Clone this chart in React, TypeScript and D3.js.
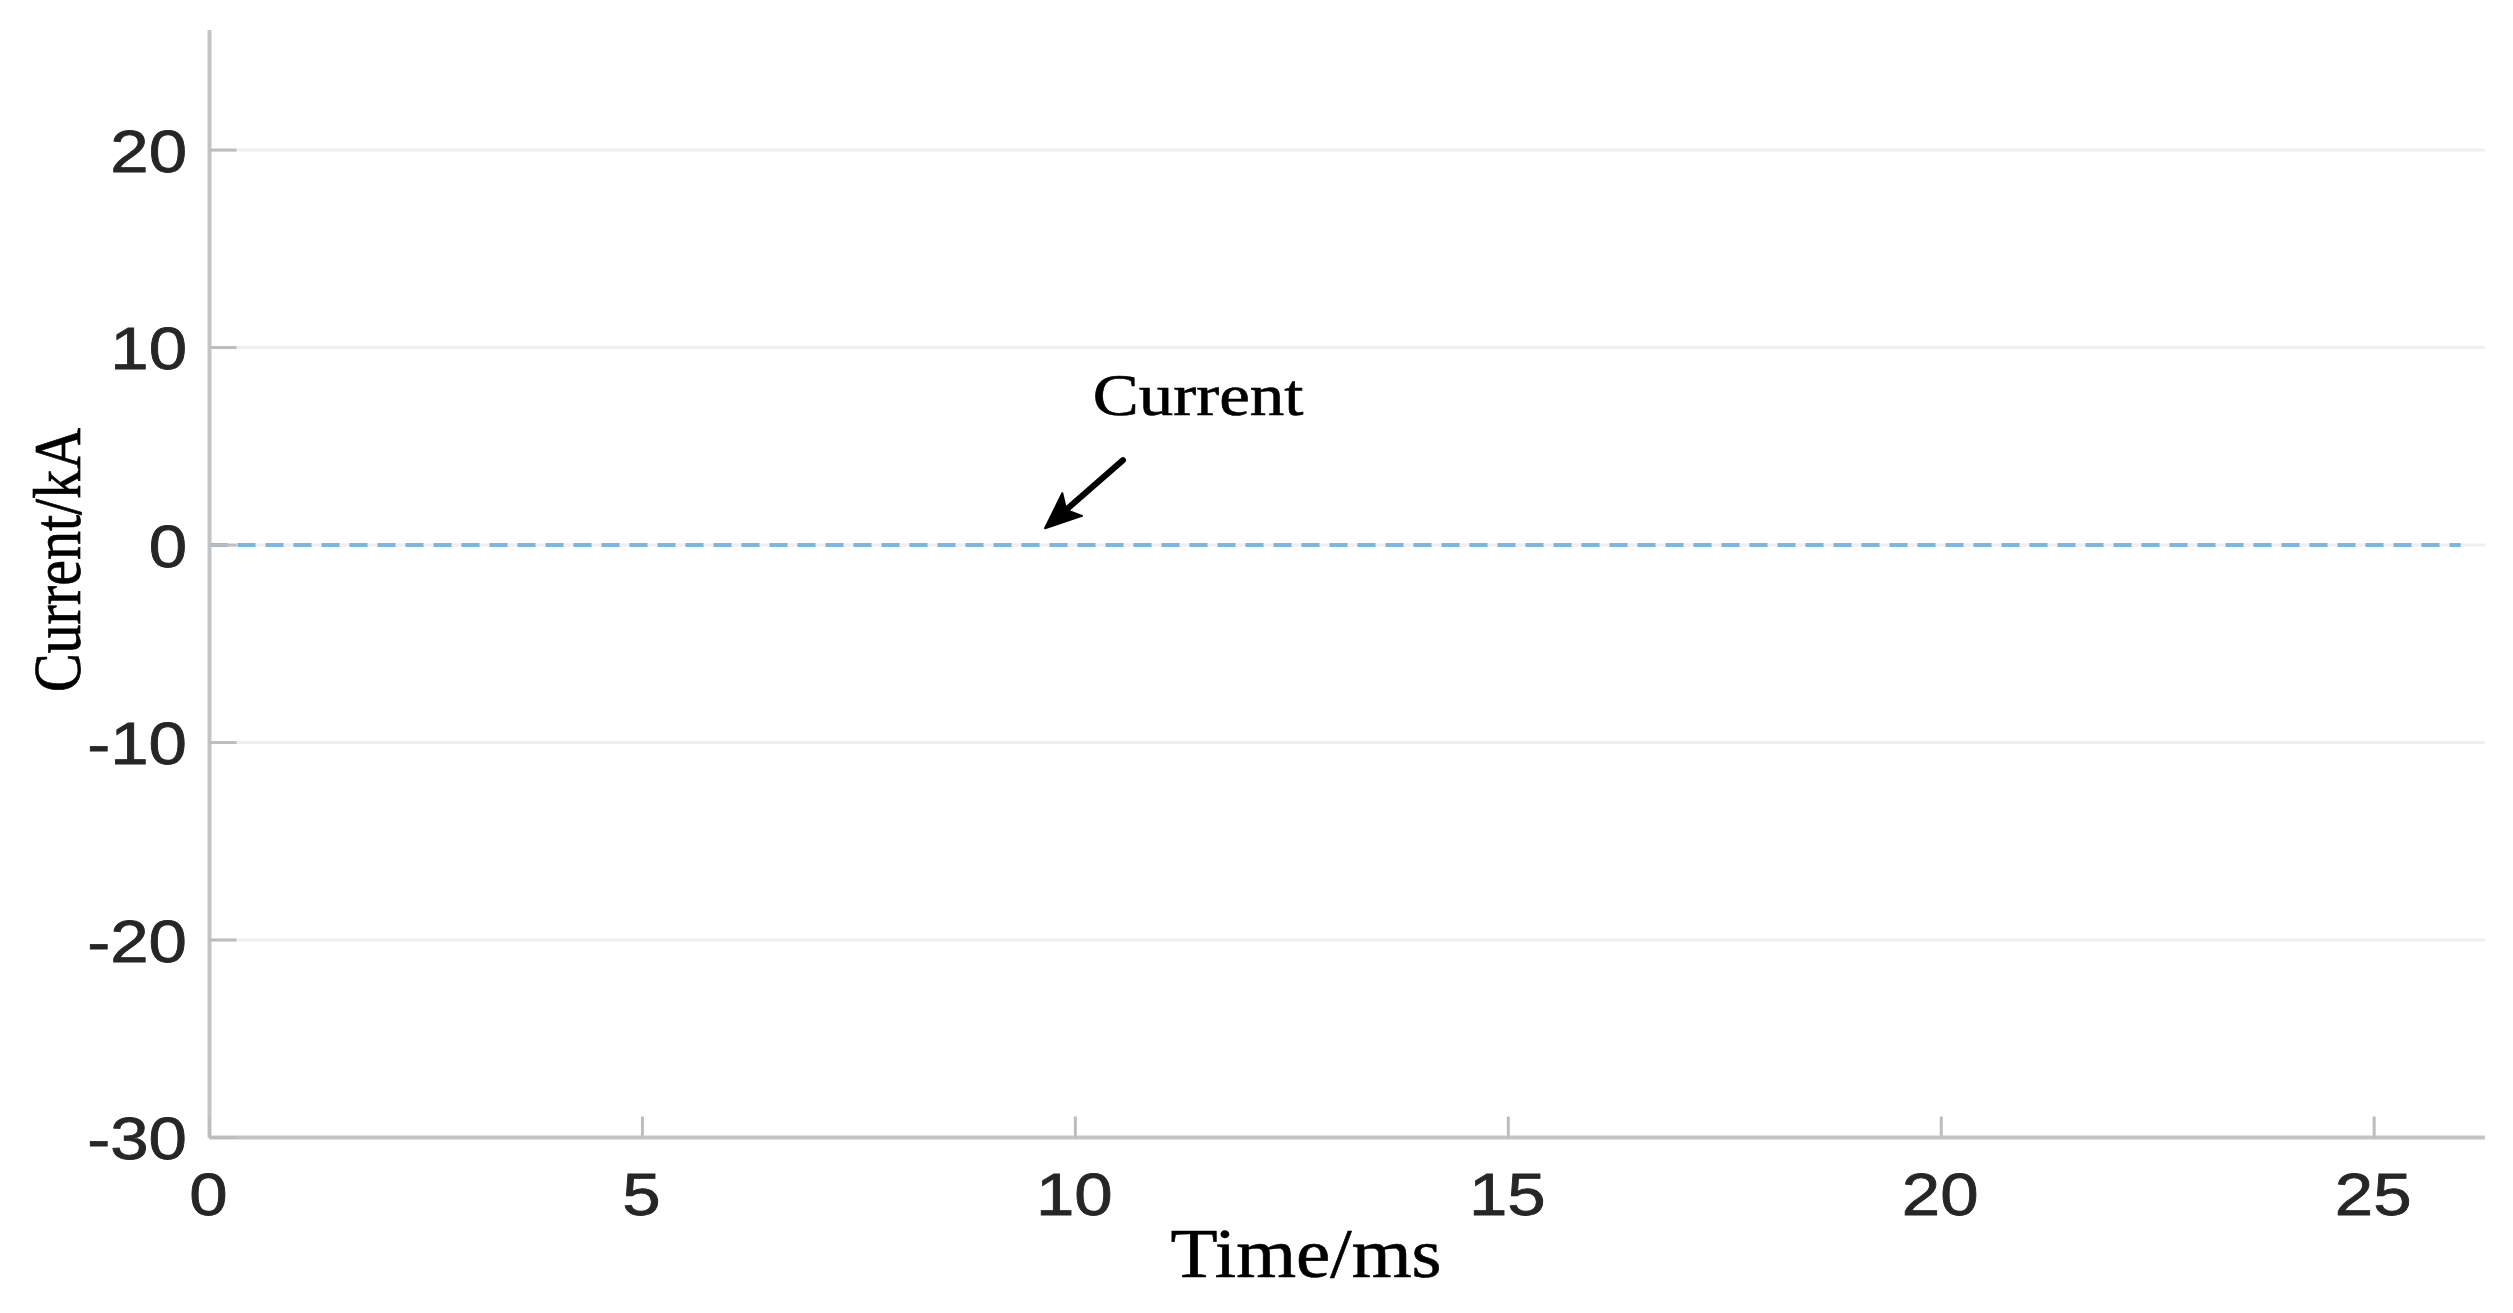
import React from "react";
import * as d3 from "d3";

// ---- data ----
const timeMs: number[] = [0, 26];
const currentKA: number[] = [0, 0];
const xTicks: number[] = [0, 5, 10, 15, 20, 25];
const yTicks: number[] = [20, 10, 0, -10, -20, -30];
const xDomain: [number, number] = [0, 26.28];
const yDomain: [number, number] = [-30, 26.08];
const annotationText = "Current";
const annotationPos: [number, number] = [10.2, 6.57];
const arrowTail: [number, number] = [10.55, 4.3];
const arrowTip: [number, number] = [9.65, 0.85];
const xLabel = "Time/ms";
const yLabel = "Current/kA";

const W = 2513;
const H = 1313;
const left = 209.5;
const right = 2485;
const top = 30;
const bottom = 1137.5;
const SX = 1.15;

export default function App() {
  const x = d3.scaleLinear().domain(xDomain).range([left, right]);
  const y = d3.scaleLinear().domain(yDomain).range([bottom, top]);
  const pts = timeMs.map((t, i) => [t, currentKA[i]] as [number, number]);
  const line = d3
    .line<[number, number]>()
    .x((d) => x(d[0]))
    .y((d) => y(d[1]));

  const tx = x(arrowTail[0]);
  const ty = y(arrowTail[1]);
  const hx = x(arrowTip[0]);
  const hy = y(arrowTip[1]);
  const ang = Math.atan2(hy - ty, hx - tx);
  const headLen = 36;
  const headW = 15;
  const bx = hx - headLen * Math.cos(ang);
  const by = hy - headLen * Math.sin(ang);
  const px = -Math.sin(ang);
  const py = Math.cos(ang);
  const nx = bx + Math.cos(ang) * 8;
  const ny = by + Math.sin(ang) * 8;
  const head = `M${hx},${hy} L${bx + px * headW},${by + py * headW} L${nx},${ny} L${bx - px * headW},${by - py * headW} Z`;

  return (
    <svg
      width={W}
      height={H}
      style={{ position: "absolute", left: 0, top: 0, background: "#fff" }}
    >
      <rect x={0} y={0} width={W} height={H} fill="#ffffff" />
      {/* grid */}
      {yTicks
        .filter((v) => v !== -30)
        .map((v) => (
          <line
            key={"g" + v}
            x1={left}
            x2={right}
            y1={y(v)}
            y2={y(v)}
            stroke="#efefef"
            strokeWidth={3}
          />
        ))}
      {/* data */}
      <path
        d={line(pts) || ""}
        fill="none"
        stroke="#7ab6e0"
        strokeWidth={4}
        strokeDasharray="18,10"
      />
      {/* axes */}
      <line x1={left} x2={left} y1={top} y2={bottom} stroke="#c4c4c4" strokeWidth={4} />
      <line x1={left} x2={right} y1={bottom} y2={bottom} stroke="#c4c4c4" strokeWidth={4} />
      {yTicks.map((v) => (
        <line
          key={"yt" + v}
          x1={left}
          x2={left + 27}
          y1={y(v)}
          y2={y(v)}
          stroke="#bdbdbd"
          strokeWidth={3}
        />
      ))}
      {xTicks.map((v) => (
        <line
          key={"xt" + v}
          x1={x(v)}
          x2={x(v)}
          y1={bottom}
          y2={bottom - 21}
          stroke="#bdbdbd"
          strokeWidth={3}
        />
      ))}
      {/* tick labels */}
      {yTicks.map((v) => (
        <text
          key={"yl" + v}
          transform={`translate(187,${y(v) + 21.5}) scale(${SX},1)`}
          textAnchor="end"
          fontFamily="Liberation Sans, Arial, sans-serif"
          fontSize={60}
          fill="#262626"
          stroke="#262626"
          strokeWidth={0.8}
        >
          {v}
        </text>
      ))}
      {xTicks.map((v) => (
        <text
          key={"xl" + v}
          transform={`translate(${x(v) - 1},1215) scale(${SX},1)`}
          textAnchor="middle"
          fontFamily="Liberation Sans, Arial, sans-serif"
          fontSize={60}
          fill="#262626"
          stroke="#262626"
          strokeWidth={0.8}
        >
          {v}
        </text>
      ))}
      {/* axis labels */}
      <text
        transform={`translate(1306,1277) scale(1.1,1)`}
        textAnchor="middle"
        fontFamily="Liberation Serif, Times New Roman, serif"
        fontSize={70}
        fill="#000"
        stroke="#000"
        strokeWidth={0.6}
      >
        {xLabel}
      </text>
      <text
        transform={`translate(80,560) scale(${SX},1) rotate(-90)`}
        textAnchor="middle"
        fontFamily="Liberation Serif, Times New Roman, serif"
        fontSize={58}
        fill="#000"
        stroke="#000"
        strokeWidth={0.6}
      >
        {yLabel}
      </text>
      {/* annotation */}
      <text
        transform={`translate(${x(annotationPos[0])},${y(annotationPos[1])}) scale(${SX},1)`}
        fontFamily="Liberation Serif, Times New Roman, serif"
        fontSize={60}
        fill="#000"
        stroke="#000"
        strokeWidth={0.6}
      >
        {annotationText}
      </text>
      <line x1={tx} y1={ty} x2={nx} y2={ny} stroke="#000" strokeWidth={6} strokeLinecap="round" />
      <path d={head} fill="#000" stroke="#000" strokeWidth={2} strokeLinejoin="round" />
    </svg>
  );
}
